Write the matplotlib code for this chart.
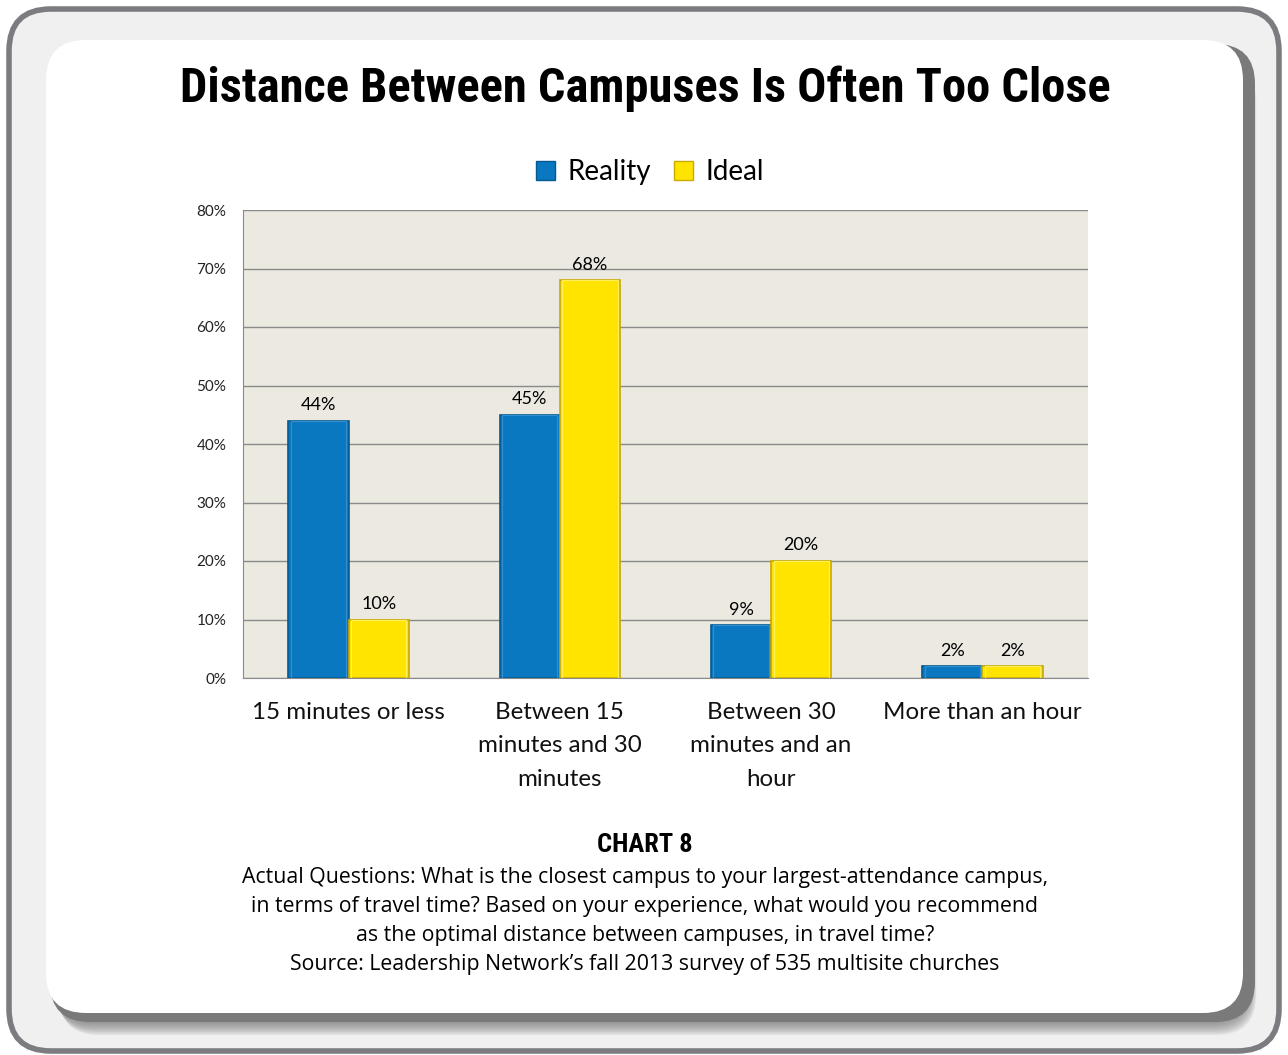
import matplotlib
matplotlib.use("Agg")
import matplotlib.pyplot as plt
from matplotlib.patches import FancyBboxPatch, Patch
import numpy as np

categories = ["15 minutes or less", "Between 15\nminutes and 30\nminutes",
              "Between 30\nminutes and an\nhour", "More than an hour"]
reality = [44, 45, 9, 2]
ideal = [10, 68, 20, 2]
series_names = ["Reality", "Ideal"]
yticks = [0, 10, 20, 30, 40, 50, 60, 70, 80]
title = "Distance Between Campuses Is Often Too Close"
caption_head = "CHART 8"
caption_lines = [
    "Actual Questions: What is the closest campus to your largest-attendance campus,",
    "in terms of travel time? Based on your experience, what would you recommend",
    "as the optimal distance between campuses, in travel time?",
    "Source: Leadership Network\u2019s fall 2013 survey of 535 multisite churches",
]

W, H = 1288, 1055
fig = plt.figure(figsize=(W / 100, H / 100), dpi=100)
fig.patch.set_facecolor("white")

bg = fig.add_axes([0, 0, 1, 1])
bg.set_xlim(0, W)
bg.set_ylim(H, 0)
bg.axis("off")

outer = FancyBboxPatch((9, 9), W - 18, H - 13, boxstyle="round,pad=0,rounding_size=42",
                       facecolor="#f0f0f0", edgecolor="#7c7c80", linewidth=4)
bg.add_patch(outer)
# soft shadow under the white card
for i in range(10):
    off = 22 - i * 1.6
    sh = FancyBboxPatch((46 + off * 0.6, 40 + off), 1197, 973, boxstyle="round,pad=0,rounding_size=40",
                        facecolor="#707070", edgecolor="none", alpha=0.12)
    bg.add_patch(sh)
sh = FancyBboxPatch((50, 44), 1205, 978, boxstyle="round,pad=0,rounding_size=40",
                    facecolor="#7a7a7a", edgecolor="none")
bg.add_patch(sh)
card = FancyBboxPatch((46, 40), 1197, 973, boxstyle="round,pad=0,rounding_size=40",
                      facecolor="white", edgecolor="none")
bg.add_patch(card)

narrow = ["DejaVu Sans Condensed", "Liberation Sans Narrow", "Roboto Condensed", "Roboto", "DejaVu Sans"]
body = ["Open Sans", "DejaVu Sans"]
lab = ["Lato", "DejaVu Sans"]

t_title = bg.text(645, 89, title, ha="center", va="center", fontsize=36, fontweight="bold",
                  family=narrow, fontstretch="condensed", color="black")
t_head = bg.text(645, 845, caption_head, ha="center", va="center", fontsize=18, fontweight="bold",
                 family=narrow, fontstretch="condensed", color="black")
for i, line in enumerate(caption_lines):
    bg.text(645, 877 + i * 29.3, line, ha="center", va="center", fontsize=15.3,
            family=body, color="black")

# fit the title and header to the reference widths
renderer = fig.canvas.get_renderer()
for t, target in ((t_title, 930), (t_head, 96)):
    w = t.get_window_extent(renderer).width
    t.set_fontsize(t.get_fontsize() * target / w)

ax = fig.add_axes([243 / W, 1 - 678 / H, (1088 - 243) / W, (678 - 210) / H])
ax.set_facecolor("#ebe9e0")
x = np.arange(len(categories))
bw = 0.285
blue = "#0a78c0"
yellow = "#ffe400"
b1 = ax.bar(x - bw / 2, reality, bw, color=blue, edgecolor="#04598f", linewidth=1.2, zorder=3)
b2 = ax.bar(x + bw / 2, ideal, bw, color=yellow, edgecolor="#c9a900", linewidth=1.2, zorder=3)
# subtle bevel highlight
ax.bar(x - bw / 2, reality, bw * 0.92, color="none", edgecolor="#2f8fd0", linewidth=0.8, zorder=4)
ax.bar(x + bw / 2, ideal, bw * 0.92, color="none", edgecolor="#fff060", linewidth=0.8, zorder=4)
for bars, vals in ((b1, reality), (b2, ideal)):
    for r, v in zip(bars, vals):
        ax.text(r.get_x() + r.get_width() / 2, v + 1.3, f"{v}%", ha="center", va="bottom",
                fontsize=13, family=lab, color="black")

ax.set_xlim(-0.5, len(categories) - 0.5)
ax.set_ylim(0, 80)
ax.set_yticks(yticks)
ax.set_yticklabels([f"{t}%" for t in yticks], fontsize=11, family=lab, color="#222222")
ax.yaxis.grid(True, color="#8a8a8a", linewidth=1)
ax.set_axisbelow(True)
ax.tick_params(axis="y", length=0, pad=12)
ax.tick_params(axis="x", length=0, pad=17)
ax.set_xticks(x)
ax.set_xticklabels(categories, fontsize=17.4, family=lab, color="#111111", linespacing=1.74, va="top")
for s in ["top", "right"]:
    ax.spines[s].set_visible(False)
ax.spines["left"].set_color("#8a8a8a")
ax.spines["bottom"].set_color("#8a8a8a")

handles = [Patch(facecolor=blue, edgecolor="#04598f"), Patch(facecolor=yellow, edgecolor="#c9a900")]
fig.legend(handles, series_names, loc="center", bbox_to_anchor=(650 / W, 1 - 172 / H), ncol=2,
           frameon=False, prop={"family": lab, "size": 20}, handlelength=0.7, handleheight=0.7,
           handletextpad=0.45, columnspacing=0.8)

fig.savefig("out.png", dpi=100)
